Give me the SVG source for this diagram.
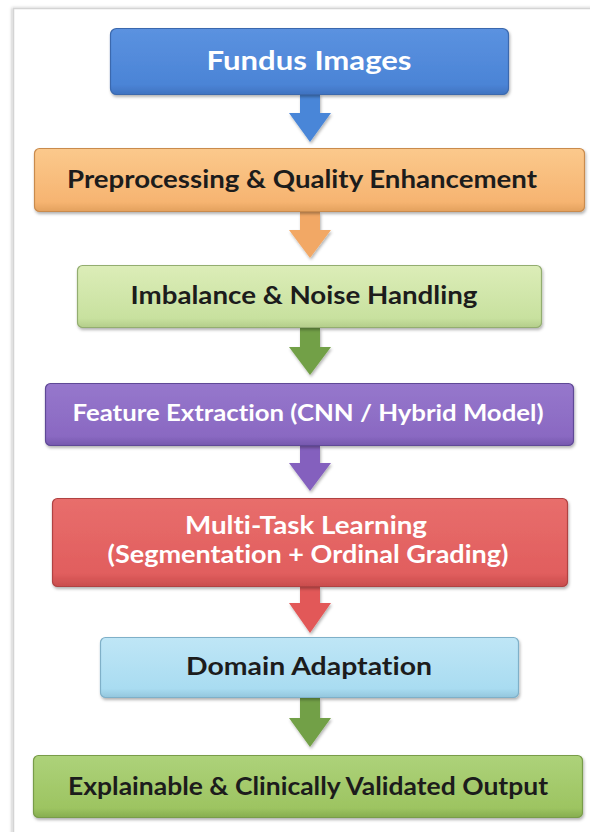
<svg xmlns="http://www.w3.org/2000/svg" width="590" height="832" viewBox="0 0 590 832">
<defs>
<filter id="sh" x="-5%" y="-10%" width="110%" height="130%"><feDropShadow dx="1" dy="2" stdDeviation="1.5" flood-color="#000" flood-opacity="0.3"/></filter>
<filter id="fr" x="-5%" y="-5%" width="110%" height="110%"><feDropShadow dx="-1" dy="0" stdDeviation="1.5" flood-color="#000" flood-opacity="0.25"/></filter>
<linearGradient id="gBlue" x1="0" y1="0" x2="0" y2="1"><stop offset="0" stop-color="#5b92e0"/><stop offset="0.85" stop-color="#4b84d6"/><stop offset="1" stop-color="#3f72c0"/></linearGradient>
<linearGradient id="gOrange" x1="0" y1="0" x2="0" y2="1"><stop offset="0" stop-color="#fbc98c"/><stop offset="0.85" stop-color="#f6b471"/><stop offset="1" stop-color="#e3a15e"/></linearGradient>
<linearGradient id="gLgreen" x1="0" y1="0" x2="0" y2="1"><stop offset="0" stop-color="#dcedb8"/><stop offset="0.85" stop-color="#c8e19f"/><stop offset="1" stop-color="#b3cd8a"/></linearGradient>
<linearGradient id="gPurple" x1="0" y1="0" x2="0" y2="1"><stop offset="0" stop-color="#9677cc"/><stop offset="0.85" stop-color="#8a69c2"/><stop offset="1" stop-color="#7557ad"/></linearGradient>
<linearGradient id="gRed" x1="0" y1="0" x2="0" y2="1"><stop offset="0" stop-color="#e86e6c"/><stop offset="0.85" stop-color="#e15e5e"/><stop offset="1" stop-color="#c94d4d"/></linearGradient>
<linearGradient id="gLblue" x1="0" y1="0" x2="0" y2="1"><stop offset="0" stop-color="#bfe6f6"/><stop offset="0.85" stop-color="#a9dcf1"/><stop offset="1" stop-color="#93c6dd"/></linearGradient>
<linearGradient id="gGreen" x1="0" y1="0" x2="0" y2="1"><stop offset="0" stop-color="#add27a"/><stop offset="0.85" stop-color="#9dc461"/><stop offset="1" stop-color="#86ad4f"/></linearGradient>
</defs>
<style>
.box{stroke-width:1.2;filter:url(#sh)}
.t{font-family:Lato,"Open Sans","Liberation Sans",sans-serif;font-weight:700;text-anchor:middle;font-variant-ligatures:none;font-feature-settings:"liga" 0,"dlig" 0}
.w{fill:#ffffff}
.d{fill:#1c1c1c}
.arr{filter:url(#sh)}
</style>
<rect x="0" y="0" width="590" height="832" fill="#ffffff"/>
<rect x="13.5" y="8.5" width="620" height="900" fill="#ffffff" stroke="#d4d4d4" stroke-width="1.5" filter="url(#fr)"/>

<g id="connectors">
<path class="arr" d="M300,94 H320 V113 H331 L310,142 L289,113 H300 Z" fill="#4a86d8"/>
<path class="arr" d="M300,212 H320 V230 H331 L310,258 L289,230 H300 Z" fill="#f2a865"/>
<path class="arr" d="M300,328 H320 V347 H331 L310,375 L289,347 H300 Z" fill="#72a046"/>
<path class="arr" d="M300,446 H320 V463 H331 L310,491 L289,463 H300 Z" fill="#8461be"/>
<path class="arr" d="M300,587 H320 V603 H331 L310,633 L289,603 H300 Z" fill="#e25858"/>
<path class="arr" d="M300,698 H320 V718 H331 L310,747 L289,718 H300 Z" fill="#72a046"/>
</g>

<g id="n1">
<rect class="box" x="110.5" y="28.5" width="398" height="66" rx="6" fill="url(#gBlue)" stroke="#3a68ad"/>
<text class="t w" x="309" y="70" font-size="26" textLength="205" lengthAdjust="spacingAndGlyphs">Fundus Images</text>
</g>
<g id="n2">
<rect class="box" x="34.5" y="148.5" width="550" height="63" rx="5" fill="url(#gOrange)" stroke="#c98b4e"/>
<text class="t d" x="302" y="188" font-size="24" textLength="470" lengthAdjust="spacingAndGlyphs">Preprocessing &amp; Quality Enhancement</text>
</g>
<g id="n3">
<rect class="box" x="77.5" y="265.5" width="464" height="62" rx="5" fill="url(#gLgreen)" stroke="#93ad70"/>
<text class="t d" x="304" y="304" font-size="24" textLength="347" lengthAdjust="spacingAndGlyphs">Imbalance &amp; Noise Handling</text>
</g>
<g id="n4">
<rect class="box" x="45.5" y="383.5" width="528" height="62" rx="5" fill="url(#gPurple)" stroke="#5f4896"/>
<text class="t w" x="308" y="421" font-size="23" textLength="471" lengthAdjust="spacingAndGlyphs">Feature Extraction (CNN / Hybrid Model)</text>
</g>
<g id="n5">
<rect class="box" x="52.5" y="498.5" width="515" height="88" rx="5" fill="url(#gRed)" stroke="#b04343"/>
<text class="t w" x="306" y="534" font-size="24" textLength="242" lengthAdjust="spacingAndGlyphs">Multi-Task Learning</text>
<text class="t w" x="308" y="563" font-size="24" textLength="401" lengthAdjust="spacingAndGlyphs">(Segmentation + Ordinal Grading)</text>
</g>
<g id="n6">
<rect class="box" x="100.5" y="637.5" width="418" height="60" rx="5" fill="url(#gLblue)" stroke="#7fb0c8"/>
<text class="t d" x="309" y="675" font-size="24" textLength="246" lengthAdjust="spacingAndGlyphs">Domain Adaptation</text>
</g>
<g id="n7">
<rect class="box" x="33.5" y="755.5" width="549" height="62" rx="5" fill="url(#gGreen)" stroke="#789c48"/>
<text class="t d" x="308" y="795" font-size="24" textLength="480" lengthAdjust="spacingAndGlyphs">Explainable &amp; Clinically Validated Output</text>
</g>
</svg>
